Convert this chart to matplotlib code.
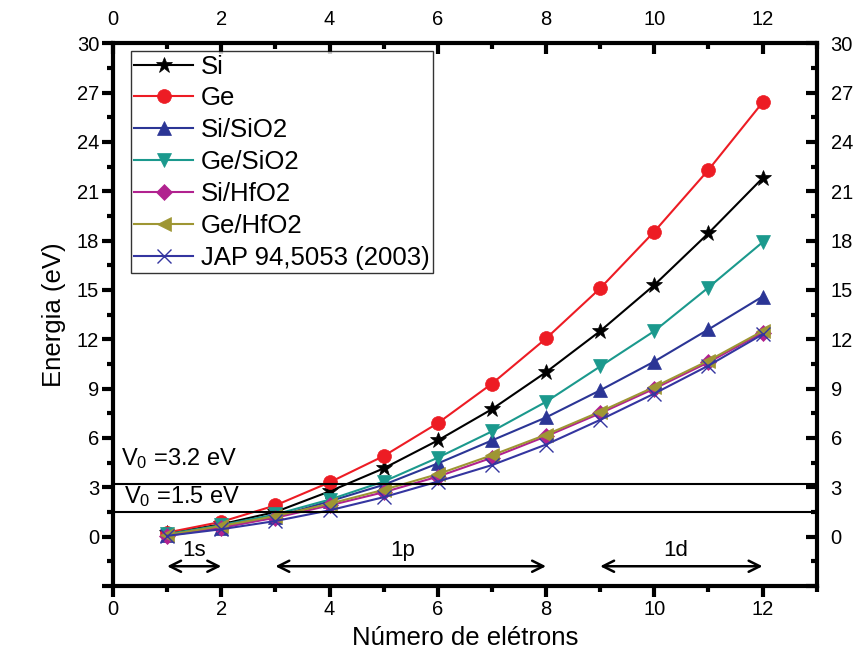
import matplotlib
matplotlib.use('Agg')
import matplotlib.pyplot as plt
from matplotlib.ticker import MultipleLocator, FuncFormatter

plt.rcParams['font.family'] = ['Liberation Sans', 'DejaVu Sans']
plt.rcParams['mathtext.fontset'] = 'custom'
plt.rcParams['mathtext.rm'] = 'Liberation Sans'
plt.rcParams['mathtext.it'] = 'Liberation Sans'

# número de elétrons no ponto quântico
n_elec = [1, 2, 3, 4, 5, 6, 7, 8, 9, 10, 11, 12]

# energias (eV)
e_si       = [0.20, 0.75, 1.50, 2.75, 4.15, 5.85, 7.75, 10.0, 12.5, 15.3, 18.45, 21.8]
e_ge       = [0.25, 0.90, 1.90, 3.30, 4.90, 6.90, 9.30, 12.05, 15.1, 18.55, 22.3, 26.4]
e_si_sio2  = [0.10, 0.55, 1.20, 2.15, 3.15, 4.45, 5.85, 7.25, 8.90, 10.65, 12.6, 14.6]
e_ge_sio2  = [0.15, 0.70, 1.35, 2.25, 3.35, 4.80, 6.40, 8.20, 10.35, 12.5, 15.15, 17.9]
e_si_hfo2  = [0.05, 0.55, 1.15, 1.90, 2.70, 3.65, 4.80, 6.10, 7.50, 9.00, 10.6, 12.4]
e_ge_hfo2  = [0.10, 0.65, 1.25, 2.00, 2.85, 3.80, 4.95, 6.20, 7.60, 9.10, 10.7, 12.5]
e_jap      = [0.05, 0.45, 0.95, 1.60, 2.40, 3.35, 4.35, 5.60, 7.10, 8.70, 10.4, 12.3]

v0_alto = 3.2
v0_baixo = 1.5

# camadas: (rótulo, início, fim, posição do rótulo)
camadas = [('1s', 1, 2, 1.5), ('1p', 3, 8, 5.35), ('1d', 9, 12, 10.4)]
y_seta = -1.8
y_texto_camada = -0.85

fig = plt.figure(figsize=(8.54, 6.59), dpi=100)
ax = fig.add_axes([0.1323, 0.1108, 0.8240, 0.8235])

series = [
    (e_si, 'Si', 'black', '*', 12),
    (e_ge, 'Ge', '#ed1c24', 'o', 10),
    (e_si_sio2, 'Si/SiO2', '#2b3595', '^', 10),
    (e_ge_sio2, 'Ge/SiO2', '#1b998d', 'v', 10),
    (e_si_hfo2, 'Si/HfO2', '#b1228f', 'D', 8),
    (e_ge_hfo2, 'Ge/HfO2', '#9e9633', '<', 10),
    (e_jap, 'JAP 94,5053 (2003)', '#3435a0', 'x', 10),
]
for ys, lab, cor, mk, ms in series:
    ax.plot(n_elec, ys, color=cor, marker=mk, markersize=ms, lw=1.5,
            markeredgewidth=1.0 if mk == 'x' else 0.5, label=lab)

ax.axhline(v0_alto, color='black', lw=1.5)
ax.axhline(v0_baixo, color='black', lw=1.5)
ax.text(0.15, 4.38, r'V$_0$ =%.1f eV' % v0_alto, fontsize=17, va='baseline')
ax.text(0.2, 2.04, r'V$_0$ =%.1f eV' % v0_baixo, fontsize=17, va='baseline')

for lab, x0, x1, xt in camadas:
    ax.annotate('', xy=(x0, y_seta), xytext=(x1, y_seta),
                arrowprops=dict(arrowstyle='<->', color='black', lw=1.8,
                                mutation_scale=20, shrinkA=0, shrinkB=0))
    ax.text(xt, y_texto_camada, lab, fontsize=16, ha='center', va='center')

ax.set_xlim(0, 13)
ax.set_ylim(-3, 30)
ax.xaxis.set_major_locator(MultipleLocator(2))
ax.xaxis.set_minor_locator(MultipleLocator(1))
ax.yaxis.set_major_locator(MultipleLocator(3))
ax.yaxis.set_minor_locator(MultipleLocator(1.5))
ax.yaxis.set_major_formatter(FuncFormatter(lambda v, p: '' if v < 0 else '%d' % v))

for s in ax.spines.values():
    s.set_linewidth(3)

ax.tick_params(which='both', top=True, right=True, labeltop=True, labelright=True,
               labelsize=14.5, width=3)
ax.tick_params(which='major', length=8)
ax.tick_params(which='minor', length=4.5)
ax.tick_params(axis='x', which='both', direction='out', pad=2)
ax.tick_params(axis='y', which='both', direction='out', pad=2)
# no eixo superior e direito as marcas apontam para dentro
for t in ax.xaxis.get_major_ticks() + ax.xaxis.get_minor_ticks():
    t.tick2line.set_marker(3)
for t in ax.yaxis.get_major_ticks() + ax.yaxis.get_minor_ticks():
    t.tick2line.set_marker(0)

ax.set_xlabel('Número de elétrons', fontsize=18.5, labelpad=5)
ax.set_ylabel('Energia (eV)', fontsize=18.5, labelpad=8)

leg = ax.legend(loc='upper left', bbox_to_anchor=(0.0255, 0.985), fontsize=18.5,
                frameon=True, fancybox=False, edgecolor='black', handlelength=2.3,
                labelspacing=0.31, borderpad=0.12, handletextpad=0.3, borderaxespad=0)
leg.get_frame().set_linewidth(1.0)

fig.savefig('out.png', dpi=100)
